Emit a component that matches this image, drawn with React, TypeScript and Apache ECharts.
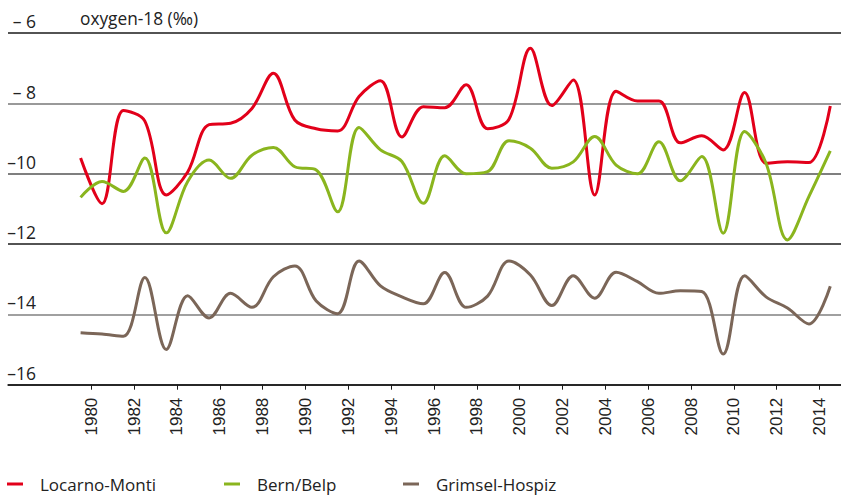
import React, { useEffect, useRef } from "react";
import * as echarts from "echarts";

const years = [
  1979, 1980, 1981, 1982, 1983, 1984, 1985, 1986, 1987, 1988, 1989, 1990,
  1991, 1992, 1993, 1994, 1995, 1996, 1997, 1998, 1999, 2000, 2001, 2002,
  2003, 2004, 2005, 2006, 2007, 2008, 2009, 2010, 2011, 2012, 2013, 2014,
];

const locarnoMonti = [
  -9.55, -10.85, -8.2, -8.5, -10.6, -9.95, -8.6, -8.56, -8.14, -7.14, -8.47, -8.72,
  -8.78, -7.8, -7.35, -8.95, -8.09, -8.12, -7.47, -8.72, -8.45, -6.43, -8.06, -7.33,
  -10.6, -7.65, -7.93, -7.93, -9.12, -8.92, -9.32, -7.69, -9.7, -9.66, -9.68, -8.07,
];

const bernBelp = [
  -10.67, -10.22, -10.5, -9.55, -11.68, -10.22, -9.61, -10.13, -9.47, -9.25, -9.8, -9.89,
  -11.08, -8.68, -9.32, -9.65, -10.84, -9.49, -10.0, -9.94, -9.06, -9.27, -9.84, -9.66,
  -8.94, -9.75, -10.0, -9.09, -10.2, -9.51, -11.69, -8.8, -9.7, -11.88, -10.65, -9.35,
];

const grimselHospiz = [
  -14.52, -14.56, -14.62, -12.95, -15.0, -13.47, -14.1, -13.4, -13.8, -12.93, -12.62, -13.62,
  -13.98, -12.48, -13.19, -13.5, -13.7, -12.81, -13.8, -13.48, -12.48, -12.88, -13.75, -12.9,
  -13.54, -12.8, -13.07, -13.4, -13.33, -13.35, -15.13, -12.9, -13.5, -13.82, -14.27, -13.2,
];

const xTickLabels = [
  1980, 1982, 1984, 1986, 1988, 1990, 1992, 1994, 1996, 1998, 2000, 2002, 2004,
  2006, 2008, 2010, 2012, 2014,
];

const yTickLabels: Record<string, string> = {
  "-6": "\u2013 6",
  "-8": "\u2013 8",
  "-10": "\u201310",
  "-12": "\u201312",
  "-14": "\u201314",
  "-16": "\u201316",
};

const seriesNames = ["Locarno-Monti", "Bern/Belp", "Grimsel-Hospiz"];
const seriesValues = [locarnoMonti, bernBelp, grimselHospiz];
const seriesColors = ["#e2001a", "#8ab51e", "#7b6658"];

const FONT = "'Open Sans', 'Noto Sans', sans-serif";

export default function App() {
  const ref = useRef<HTMLDivElement>(null);

  useEffect(() => {
    if (!ref.current) return;
    const chart = echarts.init(ref.current, undefined, { renderer: "svg" });

    const series = seriesNames.map((name, i) => ({
      name,
      type: "line",
      smooth: 0.35,
      symbol: "none",
      lineStyle: { color: seriesColors[i], width: 3 },
      itemStyle: { color: seriesColors[i] },
      data: years.map((y, j) => [y + 0.5, seriesValues[i][j]]),
      z: 3,
    }));

    const legendLefts = [2, 219, 398];
    const legends = seriesNames.map((name, i) => ({
      data: [name],
      left: legendLefts[i],
      top: 470,
      icon: "rect",
      itemWidth: 16,
      itemHeight: 3,
      selectedMode: false,
      textStyle: {
        fontFamily: FONT,
        fontSize: 17,
        lineHeight: 18,
        color: "#222",
        padding: [0, 0, 0, 12],
      },
    }));

    chart.setOption({
      animation: false,
      backgroundColor: "#ffffff",
      title: {
        text: "oxygen-18 (\u2030)",
        left: 75,
        top: 5,
        textStyle: { fontFamily: FONT, fontSize: 17.3, fontWeight: "normal", color: "#222" },
      },
      legend: legends,
      grid: { left: 8, right: 0, top: 33.2, bottom: 112.3, containLabel: false },
      xAxis: {
        type: "value",
        min: 1976.111,
        max: 2015.0,
        axisLine: { show: true, lineStyle: { color: "#1a1a1a", width: 1.5 } },
        axisTick: {
          show: true,
          customValues: xTickLabels,
          length: 5,
          lineStyle: { color: "#1a1a1a", width: 1 },
        },
        axisLabel: {
          customValues: xTickLabels,
          rotate: 90,
          margin: 13,
          fontFamily: "'Liberation Sans', Arial, sans-serif",
          fontSize: 17,
          color: "#222",
          formatter: (v: number) => String(Math.round(v)),
        },
        splitLine: { show: false },
      },
      yAxis: {
        type: "value",
        min: -16,
        max: -6,
        interval: 2,
        axisLine: { show: false },
        axisTick: { show: false },
        axisLabel: {
          inside: true,
          margin: 28,
          align: "right",
          verticalAlign: "bottom",
          padding: [0, 0, 3, 0],
          fontFamily: FONT,
          fontSize: 17.5,
          color: "#222",
          formatter: (v: number) => yTickLabels[String(v)] ?? String(v),
        },
        splitLine: {
          show: true,
          lineStyle: {
            color: ["#1a1a1a", "#808080", "#1a1a1a", "#555555", "#777777", "#1a1a1a"],
            width: 1.5,
          },
        },
      },
      series,
    });

    return () => chart.dispose();
  }, []);

  return (
    <div
      ref={ref}
      style={{ position: "fixed", left: 0, top: 0, width: 841, height: 497 }}
    />
  );
}
